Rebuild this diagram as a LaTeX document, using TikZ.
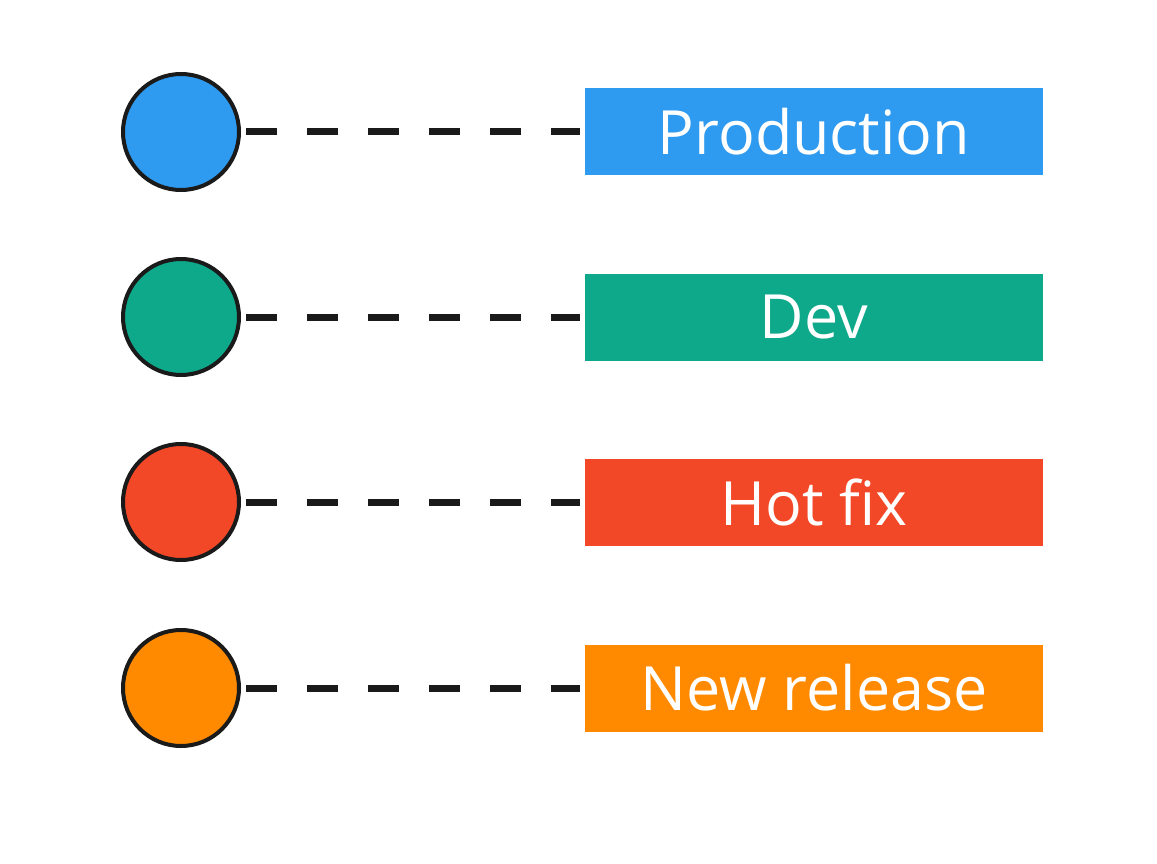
\documentclass[tikz,border=0pt]{standalone}
\usepackage{fontspec}
\setmainfont{Open Sans}
\usepackage{tikz}
\usetikzlibrary{positioning}
\definecolor{prodblue}{HTML}{2E9BF0}
\definecolor{devgreen}{HTML}{0EA88A}
\definecolor{fixred}{HTML}{F24827}
\definecolor{relorange}{HTML}{FF8A00}
\definecolor{inkdark}{HTML}{1A1A1A}
\tikzset{enlace/.style={line width=7pt, draw=inkdark, dash pattern=on 31pt off 30pt, shorten <=5pt, shorten >=5pt}}

\begin{document}
\begin{tikzpicture}[x=1pt, y=1pt,
        rama/.style={draw=inkdark, circle, line width=4pt, minimum size=116pt, inner sep=0pt},
        etiqueta/.style={rectangle, minimum width=458pt, minimum height=87pt, inner sep=0pt, text=white, font=\fontsize{61}{73}\selectfont}]
            \useasboundingbox (0,0) rectangle (1157,-864);
            \node[rama, fill=prodblue]   (c1) at (181,-132) {};
            \node[rama, fill=devgreen]   (c2) at (181,-317) {};
            \node[rama, fill=fixred]     (c3) at (181,-502) {};
            \node[rama, fill=relorange]  (c4) at (181,-688) {};

            \node[etiqueta, fill=prodblue]  (e1) at (814,-131.5) {Production};
            \node[etiqueta, fill=devgreen]  (e2) at (814,-317) {Dev};
            \node[etiqueta, fill=fixred]    (e3) at (814,-502.5) {Hot fix};
            \node[etiqueta, fill=relorange] (e4) at (814,-688) {New release};

            \draw[enlace] (c1) -- (c1 -| e1.west);
            \draw[enlace] (c2) -- (c2 -| e2.west);
            \draw[enlace] (c3) -- (c3 -| e3.west);
            \draw[enlace] (c4) -- (c4 -| e4.west);
        \end{tikzpicture}
\end{document}
